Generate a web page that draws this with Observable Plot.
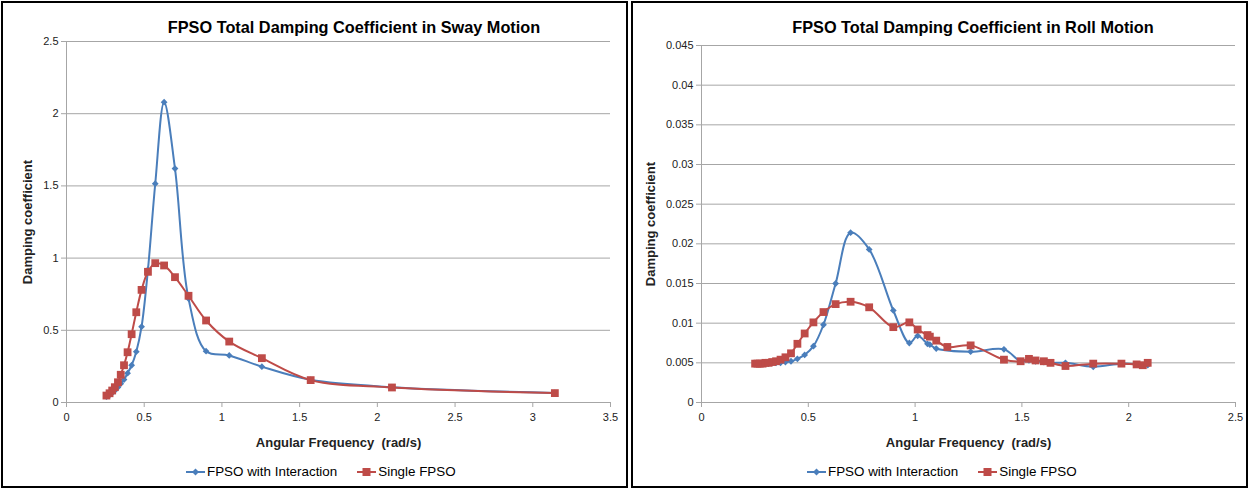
<!DOCTYPE html>
<html><head><meta charset="utf-8">
<script src="https://cdn.jsdelivr.net/npm/d3@7"></script>
<script src="https://cdn.jsdelivr.net/npm/@observablehq/plot@0.6"></script>
<style>
body{margin:0;background:#fff;font-family:"Liberation Sans",Arial,sans-serif;}
.panel{position:absolute;top:1px;height:487px;border:2px solid #000;box-sizing:border-box;background:#fff;overflow:hidden}
.title{position:absolute;top:15px;font-weight:bold;font-size:16.3px;line-height:18px;white-space:nowrap;transform:translateX(-50%);color:#000}
.chart{position:absolute;left:0;top:31px}
.legend{position:absolute;top:461px;font-size:13.4px;line-height:16px;white-space:nowrap;display:flex;align-items:center;color:#000}
.legend svg{display:block;margin-right:2px}
.gap{display:inline-block;width:20px}
[aria-label="x-axis label"],[aria-label="y-axis label"]{font-weight:bold;font-size:13px}
</style>
</head><body>
<div class="panel" id="p1" style="left:1px;width:627px">
  <div class="title" style="left:351px">FPSO Total Damping Coefficient in Sway Motion</div>
  <div class="chart" id="c1"></div>
  <div class="legend" style="left:183px"></div>
</div>
<div class="panel" id="p2" style="left:631px;width:617px">
  <div class="title" style="left:340px">FPSO Total Damping Coefficient in Roll Motion</div>
  <div class="chart" id="c2"></div>
  <div class="legend" style="left:174px"></div>
</div>
<script>
// ---- Series names
const seriesNames = ["FPSO with Interaction", "Single FPSO"];

// ---- Sway chart (left)
const swayInterX = [0.257,0.277,0.294,0.311,0.331,0.349,0.370,0.393,0.419,0.449,0.483,0.524,0.571,0.628,0.698,0.785,0.898,1.047,1.257,1.571,2.094,3.142];
const swayInterY = [0.040,0.052,0.066,0.083,0.105,0.130,0.159,0.203,0.258,0.352,0.525,0.920,1.515,2.080,1.620,0.720,0.355,0.326,0.248,0.157,0.106,0.066];
const swaySingleX = [0.257,0.277,0.294,0.311,0.331,0.349,0.370,0.393,0.419,0.449,0.483,0.524,0.571,0.628,0.698,0.785,0.898,1.047,1.257,1.571,2.094,3.142];
const swaySingleY = [0.048,0.064,0.083,0.106,0.140,0.192,0.258,0.348,0.473,0.625,0.780,0.905,0.965,0.949,0.868,0.739,0.568,0.422,0.307,0.155,0.104,0.065];
const swayXTicks = [0,0.5,1,1.5,2,2.5,3,3.5];
const swayYTicks = [0,0.5,1,1.5,2,2.5];

// ---- Roll chart (right)
const rollInterX = [0.251,0.262,0.273,0.286,0.299,0.314,0.331,0.349,0.370,0.393,0.419,0.449,0.483,0.524,0.571,0.628,0.698,0.785,0.898,0.973,1.012,1.058,1.069,1.099,1.260,1.416,1.494,1.533,1.564,1.603,1.634,1.704,1.834,1.966,2.037,2.066,2.089];
const rollInterY = [0.0049,0.0049,0.0049,0.0049,0.0049,0.0049,0.0050,0.0050,0.0050,0.0051,0.0052,0.0055,0.0060,0.0071,0.0098,0.0150,0.0214,0.0193,0.0116,0.0075,0.0084,0.0074,0.0073,0.0068,0.0064,0.0067,0.0052,0.0053,0.0052,0.0051,0.0050,0.0050,0.0045,0.0049,0.0048,0.0047,0.0047];
const rollSingleX = [0.251,0.262,0.273,0.286,0.299,0.314,0.331,0.349,0.370,0.393,0.419,0.449,0.483,0.524,0.571,0.628,0.698,0.785,0.898,0.973,1.012,1.058,1.069,1.099,1.151,1.260,1.416,1.494,1.533,1.564,1.603,1.634,1.704,1.834,1.966,2.037,2.066,2.089];
const rollSingleY = [0.0049,0.0049,0.0049,0.0049,0.0050,0.0050,0.0051,0.0052,0.0054,0.0057,0.0062,0.0074,0.0087,0.0101,0.0114,0.0124,0.0127,0.0120,0.0095,0.0101,0.0092,0.0085,0.0083,0.0078,0.0070,0.0072,0.0054,0.0052,0.0055,0.0053,0.0052,0.0050,0.0046,0.0049,0.0049,0.0048,0.0047,0.0050];
const rollXTicks = [0,0.5,1,1.5,2,2.5];
const rollYTicks = [0,0.005,0.01,0.015,0.02,0.025,0.03,0.035,0.04,0.045];

const BLUE = "#4a7ebb", RED = "#be4b48", GRID = "#a6a6a6";

function rows(xs, ys){ return xs.map((x,i)=>({x, y: ys[i]})); }

function makeChart(o){
  const blue = rows(o.bx, o.by), red = rows(o.rx, o.ry);
  const xt = o.xTicks, yt = o.yTicks;
  return Plot.plot({
    width: o.width, height: 420,
    marginLeft: o.ml, marginRight: o.mr, marginTop: o.mt, marginBottom: 52,
    style: {fontFamily: '"Liberation Sans", Arial, sans-serif', background: "transparent", overflow: "visible"},
    x: {domain: [xt[0], xt[xt.length-1]]},
    y: {domain: [yt[0], yt[yt.length-1]]},
    marks: [
      Plot.gridY(yt, {stroke: GRID, strokeOpacity: 1}),
      Plot.ruleX([xt[0]], {stroke: GRID}),
      Plot.ruleY([yt[0]], {stroke: GRID}),
      Plot.axisY(yt, {tickSize: 5, tickPadding: 3, fontSize: 11, stroke: GRID, fill: "#222",
        tickFormat: d => String(d), label: "Damping coefficient", labelAnchor: "center",
        labelOffset: o.ylo, labelArrow: false}),
      Plot.axisX(xt, {tickSize: 5, tickPadding: 6, fontSize: 11, stroke: GRID, fill: "#222",
        tickFormat: d => String(d), label: "Angular Frequency\u00a0 (rad/s)", labelAnchor: "center",
        labelOffset: 44, labelArrow: false}),
      Plot.line(blue, {x: "x", y: "y", stroke: BLUE, strokeWidth: 2, curve: "catmull-rom"}),
      Plot.dot(blue, {x: "x", y: "y", symbol: "square", rotate: 45, r: 2.7, fill: BLUE}),
      Plot.line(red, {x: "x", y: "y", stroke: RED, strokeWidth: 2, curve: "catmull-rom"}),
      Plot.dot(red, {x: "x", y: "y", symbol: "square", r: 4.4, fill: RED})
    ]
  });
}

document.getElementById("c1").append(makeChart({
  bx: swayInterX, by: swayInterY, rx: swaySingleX, ry: swaySingleY,
  xTicks: swayXTicks, yTicks: swayYTicks, width: 623, ml: 63, mr: 16, mt: 7, ylo: 44
}));
document.getElementById("c2").append(makeChart({
  bx: rollInterX, by: rollInterY, rx: rollSingleX, ry: rollSingleY,
  xTicks: rollXTicks, yTicks: rollYTicks, width: 613, ml: 68, mr: 11, mt: 11, ylo: 56
}));

function legendHTML(){
  const blueKey = `<svg width="19" height="10"><line x1="0" y1="5" x2="19" y2="5" stroke="${BLUE}" stroke-width="2"/><rect x="7" y="2.5" width="5" height="5" fill="${BLUE}" transform="rotate(45 9.5 5)"/></svg>`;
  const redKey = `<svg width="19" height="10"><line x1="0" y1="5" x2="19" y2="5" stroke="${RED}" stroke-width="2"/><rect x="5.5" y="1" width="8" height="8" fill="${RED}"/></svg>`;
  return `${blueKey}<span>${seriesNames[0]}</span><span class="gap"></span>${redKey}<span>${seriesNames[1]}</span>`;
}
document.querySelectorAll(".legend").forEach(el => el.innerHTML = legendHTML());
</script>
</body></html>
